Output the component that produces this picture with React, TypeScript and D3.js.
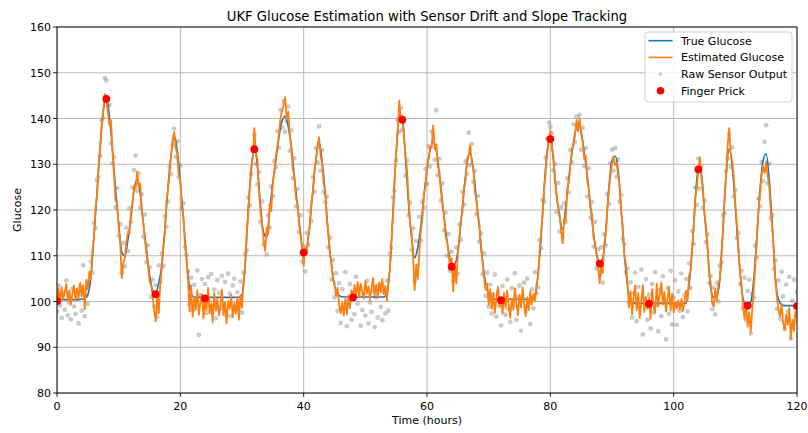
import React from 'react';
import * as d3 from 'd3';

const W = 808;
const H = 433;
const PLOT = { left: 57, right: 797, top: 27, bottom: 393 };

const xTicks = [0, 20, 40, 60, 80, 100, 120];
const yTicks = [80, 90, 100, 110, 120, 130, 140, 150, 160];

// True glucose sampled every 0.5 h (t = 0 .. 120)
const trueGlucose = [
  100.4,100.4,100.4,100.4,100.4,100.4,100.4,100.4,100.5,100.7,
  101.5,105.5,114.5,124,134,141.5,144.5,140.5,133,124.4,
  117,110.8,110,113.5,118.5,124.5,126.7,123.6,117,111.5,
  106,102.5,101.8,104,108,116,125,132,136.3,133,
  126,118,109.5,103,101.2,100.9,100.9,100.9,100.9,100.9,
  100.9,100.9,100.9,100.9,100.9,100.9,100.9,100.9,100.9,100.9,
  101.5,107.6,120,128.5,134.4,129.5,121,115,114,120,
  126,131,136,139.5,140.5,138.2,134,127,121,114.8,
  110,111.3,117.1,124.4,131.2,134.9,130.5,123.5,114.5,108,
  103.5,101.8,101.1,101,101,101,101,101,101,101,
  101,101,101,101,101,101,101,101.8,107.6,120,
  132.5,140.5,140,131.5,121.5,114,109.5,111.8,116.5,123,
  128.8,133.1,134.8,133,128,121.8,115.8,111,108,108.2,
  111,117.3,124.4,130.2,132.6,129,122.5,116,109,104,
  101.5,100.7,100.5,100.5,100.5,100.5,100.5,100.5,100.5,100.5,
  100.5,100.5,100.5,100.5,100.5,101.2,106,114,125,133.1,
  136.2,130.9,123.6,118.5,115.7,120.5,127,132.4,136.8,139,
  137.2,132.5,127.5,121,115,110.5,108.6,109.5,115.5,125,
  130.9,131.8,128.7,120,110.5,103.5,100.3,99.7,99.6,99.6,
  99.6,99.6,99.6,99.6,99.6,99.6,99.6,99.6,99.6,99.6,
  99.6,99.6,99.6,99.6,99.6,103.8,111.2,122,129.5,128,
  119.3,111.5,103,100.9,101.2,105,116,127.5,133.4,129.5,
  120.7,111,103,99.6,99.2,99.9,105,114.5,124.5,130.8,
  132.3,126.6,116.5,105,100.4,99.3,99.1,99.1,99.1,99.1,
  99.1
];

// UKF estimate sampled every 0.25 h (t = 0 .. 120)
const estimatedGlucose = [
  100.2,102.8,99.5,103.1, 100.6,101.9,103.8,100.1, 102.4,99.3,101.7,103.5, 100.2,102.9,100.8,104.1, 101.1,103.6,98.3,104.8,
  102.6,106.5,104.9,111.2, 114.0,120.5,123.2,130.1, 133.2,138.9,142.0,145.3, 144.6,141.2,138.5,139.6, 133.1,127.5,122.0,121.4,
  116.2,112.6,105.1,108.5, 109.3,113.0,115.2,114.8, 119.8,121.6,125.3,124.7, 128.4,124.9,125.8,119.6, 117.3,113.6,110.4,108.1,
  104.6,103.5,101.4,98.2, 95.6,101.2,97.4,103.8, 107.2,112.4,115.0,121.8, 124.3,128.1,131.7,135.4, 137.0,133.6,132.1,127.4,
  126.8,120.3,118.6,112.2, 109.1,104.3,97.8,103.6, 96.7,100.8,98.2,102.4, 97.1,99.9,101.6,96.3, 100.2,98.1,103.0,97.4,
  99.5,95.4,101.9,98.0, 100.7,96.9,99.3,102.6, 97.0,99.8,95.2,100.1, 98.4,101.5,96.6,99.7, 97.3,100.9,96.0,101.4,
  98.6,104.1,107.9,114.6, 118.7,125.2,129.6,131.4, 137.9,132.6,131.1,124.3, 119.5,116.8,113.6,111.0, 116.2,114.7,121.5,119.8,
  126.3,128.0,131.9,134.1, 136.8,140.2,141.7,143.0, 144.6,139.8,141.5,136.2, 133.4,128.7,127.5,122.6, 121.3,117.0,114.2,111.6,
  107.8,111.9,110.4,114.5, 116.3,121.8,123.7,128.9, 130.6,134.2,135.9,131.8, 130.0,125.6,124.3,118.2, 115.3,110.1,108.9,104.7,
  104.1,101.2,103.0,99.1, 97.4,99.8,96.9,100.5, 97.2,101.3,98.5,102.4, 100.9,103.6,101.2,104.3, 101.0,103.9,102.2,100.6,
  104.5,101.8,103.3,100.4, 102.9,105.1,101.4,103.7, 100.8,104.2,102.0,104.9, 101.6,103.4,100.2,104.6, 107.2,113.5,119.0,126.8,
  132.1,137.4,143.9,139.6, 140.7,136.0,132.4,128.9, 122.8,117.1,115.2,109.3, 102.5,108.0,104.9,110.6, 115.4,118.0,123.8,125.1,
  129.5,131.2,134.0,133.6, 138.5,133.3,134.4,129.5, 128.6,124.2,121.0,118.9, 114.3,113.1,110.4,107.2, 109.5,102.2,108.3,103.9,
  110.6,113.2,118.1,119.5, 124.9,126.5,131.3,132.0, 134.2,130.4,129.6,124.1, 122.0,118.8,116.9,111.4, 108.7,105.2,102.6,103.9,
  99.3,102.7,98.4,101.9, 97.5,100.6,103.2,99.0, 100.8,97.3,101.9,98.6, 102.4,99.1,96.4,100.7, 98.2,102.9,99.6,97.0,
  101.5,98.7,103.1,99.4, 96.8,100.9,98.1,102.2, 99.3,101.6,100.0,103.7, 105.2,110.9,115.1,119.0, 124.6,128.3,132.5,135.0,
  137.4,133.6,131.8,126.3, 123.2,120.8,119.1,115.4, 112.7,118.3,117.6,124.8, 126.0,129.7,133.5,134.1, 136.3,139.7,137.2,140.1,
  136.5,134.8,131.1,131.9, 126.2,124.5,120.4,119.3, 113.8,113.0,110.1,108.4, 104.0,107.9,106.2,112.8, 114.9,120.3,124.2,127.6,
  130.1,131.7,129.8,130.2, 127.6,124.9,119.2,116.6, 109.8,108.3,104.1,98.7, 102.3,97.2,100.9,103.5, 98.1,101.8,96.4,100.2,
  103.6,97.7,101.0,98.4, 100.8,96.2,102.7,99.1, 97.5,103.9,98.9,101.6, 104.2,99.3,102.1,97.8, 100.5,103.2,98.0,101.7,
  97.6,99.9,98.4,100.3, 98.2,100.6,97.9,99.8, 102.4,100.1,105.7,106.8, 112.3,116.0,122.9,124.7, 128.6,131.5,126.9,124.8,
  119.0,116.4,112.1,105.8, 104.2,99.6,98.9,102.7, 100.1,103.8,104.9,110.6, 115.2,122.8,127.6,133.9, 137.9,132.2,130.8,127.3,
  121.5,117.2,112.0,106.4, 103.8,99.0,96.2,99.8, 94.5,97.6,93.3,98.4, 102.7,108.1,113.6,119.8, 123.2,127.6,129.5,128.1,
  130.6,127.4,125.1,119.9, 115.7,111.5,104.2,101.0, 98.1,96.7,99.5,95.4, 93.8,97.2,94.9,98.6, 91.8,96.1,93.5,97.9,
  96.6
];

// Raw sensor readings sampled every 0.25 h (t = 0 .. 120)
const rawSensor = [
  97.8,103.5,99.1,96.4, 101.9,98.2,104.6,97.0, 99.6,96.1,102.8,98.9, 97.3,100.7,95.2,103.1, 98.0,107.9,96.8,101.2,
  99.5,104.1,108.7,106.3, 117.2,116.0,126.5,127.3, 131.8,139.6,140.2,148.9, 148.3,142.7,143.0,134.6, 130.2,131.5,120.6,124.8,
  114.4,116.9,106.3,112.8, 107.7,116.1,111.0,120.4, 117.3,124.9,128.7,131.9, 124.2,128.0,120.5,123.4, 114.1,119.0,108.6,112.3,
  107.5,101.0,104.8,98.9, 103.6,96.6,107.9,104.2, 110.5,107.8,118.7,116.3, 121.9,129.4,127.8,134.2, 137.8,131.6,135.0,127.1,
  129.7,120.3,121.5,112.0, 110.2,106.5,99.4,105.2, 98.1,103.6,100.5,106.8, 92.7,101.4,104.9,99.7, 103.8,97.5,105.3,100.1,
  106.0,99.0,102.6,96.3, 104.7,101.9,98.4,105.6, 99.2,104.3,97.0,106.1, 101.7,96.8,103.5,105.0, 98.3,102.0,99.9,104.4,
  97.6,106.3,110.4,111.2, 122.7,121.0,127.9,133.0, 136.5,130.1,125.6,128.3, 117.4,121.9,112.5,114.6, 110.3,118.8,116.2,125.1,
  123.0,130.7,129.4,137.2, 133.6,141.9,138.0,143.8, 137.1,139.5,142.6,133.0, 137.4,126.9,131.3,120.8, 124.6,115.2,118.9,108.7,
  112.1,106.6,115.0,112.4, 119.8,117.6,127.2,124.0, 133.5,130.4,138.3,128.6, 133.1,124.0,121.7,122.9, 111.8,113.9,104.8,109.1,
  100.9,106.2,97.9,104.0, 95.3,102.7,98.6,106.4, 94.6,100.3,103.8,96.0, 101.9,97.2,105.4,99.5, 103.0,94.7,98.1,101.6,
  96.9,104.5,95.2,99.8, 97.7,102.3,94.4,100.9, 96.5,103.7,98.8,95.9, 102.1,97.4,104.6,98.0, 110.5,111.7,122.8,124.2,
  130.9,139.8,137.1,142.3, 137.6,139.9,127.5,130.8, 118.9,121.6,111.3,116.0, 104.4,113.2,107.9,118.5, 113.3,121.8,120.6,129.0,
  125.7,133.9,129.5,137.2, 136.6,131.0,141.8,127.6, 131.2,122.1,125.8,115.6, 119.4,110.0,114.8,106.7, 110.9,104.5,107.0,111.8,
  106.1,116.9,113.5,124.0, 121.2,130.6,127.9,136.9, 129.8,134.4,126.2,128.5, 119.1,123.0,113.1,114.9, 106.0,110.5,101.2,106.3,
  98.9,103.7,97.4,101.5, 105.9,96.7,102.1,99.0, 94.8,103.4,100.2,97.1, 104.8,98.3,95.5,102.9, 99.2,106.2,96.0,101.0,
  103.5,93.6,100.7,104.1, 97.9,105.0,99.6,95.1, 102.7,98.5,106.4,101.8, 103.1,113.4,111.6,122.2, 121.8,131.5,135.6,139.1,
  138.2,136.8,128.7,130.0, 119.5,125.9,115.3,120.6, 114.1,121.5,117.3,126.9, 123.8,133.1,130.5,138.7, 134.9,140.4,138.6,140.8,
  133.2,138.0,129.6,133.5, 123.0,129.1,118.3,121.7, 112.0,117.4,107.2,111.4, 105.8,111.9,104.1,114.7, 112.3,123.5,121.4,130.2,
  133.2,128.6,133.5,127.3, 131.0,121.8,123.3,113.7, 112.6,106.4,107.3,99.8, 104.2,96.5,101.8,106.3, 95.7,103.2,98.9,107.0,
  92.8,100.4,104.9,96.0, 101.5,94.1,103.8,97.6, 106.4,99.3,93.5,102.6, 96.8,105.5,100.0,91.7, 103.0,97.3,106.7,95.0,
  100.8,104.6,94.9,102.2, 98.0,106.1,96.6,101.4, 104.9,97.8,108.3,103.0, 115.4,112.6,124.9,121.1, 131.3,124.7,129.5,120.5,
  122.1,113.0,114.7,104.0, 105.6,98.3,103.0,97.2, 104.1,100.0,107.8,108.6, 118.9,119.3,128.5,131.2, 136.6,129.4,133.7,123.0,
  124.4,113.9,115.0,103.8, 106.7,98.5,105.2,95.9, 102.3,104.8,93.0,101.7, 100.9,112.2,109.6,122.5, 120.8,130.5,126.3,134.9,
  138.5,125.8,130.1,118.2, 118.9,107.1,109.0,98.4, 104.6,96.2,106.5,101.1, 94.0,103.7,97.8,105.4, 91.9,100.2,104.8,96.7,
  102.0
];

const fingerPrickTimes = [0, 8, 16, 24, 32, 40, 48, 56, 64, 72, 80, 88, 96, 104, 112, 120];
const fingerPrickValues = [100.1, 144.3, 101.6, 100.7, 133.3, 110.7, 100.9, 139.7, 107.6, 100.3, 135.5, 108.3, 99.5, 128.9, 99.1, 99.0];

const legendItems = ['True Glucose', 'Estimated Glucose', 'Raw Sensor Output', 'Finger Prick'];

const BLUE = '#1f77b4';
const ORANGE = '#ff7f0e';
const FONT = '"DejaVu Sans", sans-serif';

export default function App() {
  const x = d3.scaleLinear().domain([0, 120]).range([PLOT.left, PLOT.right]);
  const y = d3.scaleLinear().domain([80, 160]).range([PLOT.bottom, PLOT.top]);

  const trueTimes = trueGlucose.map((_, i) => i * 0.5);
  const estTimes = estimatedGlucose.map((_, i) => i * 0.25);
  const rawTimes = rawSensor.map((_, i) => i * 0.25);

  const trueLine = d3.line<number>()
    .x((_, i) => x(trueTimes[i]))
    .y((d) => y(d))
    .curve(d3.curveMonotoneX);
  const estLine = d3.line<number>()
    .x((_, i) => x(estTimes[i]))
    .y((d) => y(d));

  const legend = { x: 645, y: 32, w: 147, h: 70 };
  const rowY = (i: number) => legend.y + 8.7 + i * 16.7;

  return (
    <svg width={W} height={H} style={{ display: 'block', background: '#fff' }} fontFamily={FONT}>
      <style>{`body{margin:0}`}</style>
      <defs>
        <clipPath id="plotClip">
          <rect x={PLOT.left} y={PLOT.top} width={PLOT.right - PLOT.left} height={PLOT.bottom - PLOT.top} />
        </clipPath>
      </defs>
      <rect x={0} y={0} width={W} height={H} fill="#fff" />
      {/* grid */}
      <g stroke="#b0b0b0" strokeWidth={0.9}>
        {xTicks.map((t) => (
          <line key={'gx' + t} x1={x(t)} x2={x(t)} y1={PLOT.top} y2={PLOT.bottom} />
        ))}
        {yTicks.map((t) => (
          <line key={'gy' + t} x1={PLOT.left} x2={PLOT.right} y1={y(t)} y2={y(t)} />
        ))}
      </g>
      <g clipPath="url(#plotClip)">
        {/* raw sensor */}
        <g fill="#808080" fillOpacity={0.42}>
          {rawSensor.map((v, i) => (
            <circle key={'r' + i} cx={x(rawTimes[i])} cy={y(v)} r={2.4} />
          ))}
        </g>
        <path d={trueLine(trueGlucose) || ''} fill="none" stroke={BLUE} strokeWidth={1.6} />
        <path d={estLine(estimatedGlucose) || ''} fill="none" stroke={ORANGE} strokeWidth={1.8} strokeLinejoin="round" />
        <g fill="red">
          {fingerPrickValues.map((v, i) => (
            <circle key={'f' + i} cx={x(fingerPrickTimes[i])} cy={y(v)} r={3.9} />
          ))}
        </g>
      </g>
      {/* spines */}
      <rect x={PLOT.left} y={PLOT.top} width={PLOT.right - PLOT.left} height={PLOT.bottom - PLOT.top} fill="none" stroke="#000" strokeWidth={0.9} />
      {/* ticks */}
      <g stroke="#000" strokeWidth={0.9}>
        {xTicks.map((t) => (
          <line key={'tx' + t} x1={x(t)} x2={x(t)} y1={PLOT.bottom} y2={PLOT.bottom + 3.8} />
        ))}
        {yTicks.map((t) => (
          <line key={'ty' + t} x1={PLOT.left - 3.8} x2={PLOT.left} y1={y(t)} y2={y(t)} />
        ))}
      </g>
      <g fontSize={11} fill="#000">
        {xTicks.map((t) => (
          <text key={'lx' + t} x={x(t)} y={PLOT.bottom + 17} textAnchor="middle">{t}</text>
        ))}
        {yTicks.map((t) => (
          <text key={'ly' + t} x={PLOT.left - 6} y={y(t) + 4} textAnchor="end">{t}</text>
        ))}
      </g>
      <text x={(PLOT.left + PLOT.right) / 2} y={424} textAnchor="middle" fontSize={11}>Time (hours)</text>
      <text transform={`translate(21,${(PLOT.top + PLOT.bottom) / 2}) rotate(-90)`} textAnchor="middle" fontSize={11}>Glucose</text>
      <text x={(PLOT.left + PLOT.right) / 2} y={20.5} textAnchor="middle" fontSize={13.2}>UKF Glucose Estimation with Sensor Drift and Slope Tracking</text>
      {/* legend */}
      <g>
        <rect x={legend.x} y={legend.y} width={legend.w} height={legend.h} rx={3} fill="#fff" fillOpacity={0.8} stroke="#cccccc" strokeWidth={0.9} />
        <line x1={648.5} x2={672.5} y1={rowY(0)} y2={rowY(0)} stroke={BLUE} strokeWidth={1.6} />
        <line x1={648.5} x2={672.5} y1={rowY(1)} y2={rowY(1)} stroke={ORANGE} strokeWidth={1.6} />
        <circle cx={660.5} cy={rowY(2)} r={1.9} fill="#808080" fillOpacity={0.42} />
        <circle cx={660.5} cy={rowY(3)} r={3.8} fill="red" />
        {legendItems.map((s, i) => (
          <text key={s} x={681} y={rowY(i) + 4} fontSize={11}>{s}</text>
        ))}
      </g>
    </svg>
  );
}
